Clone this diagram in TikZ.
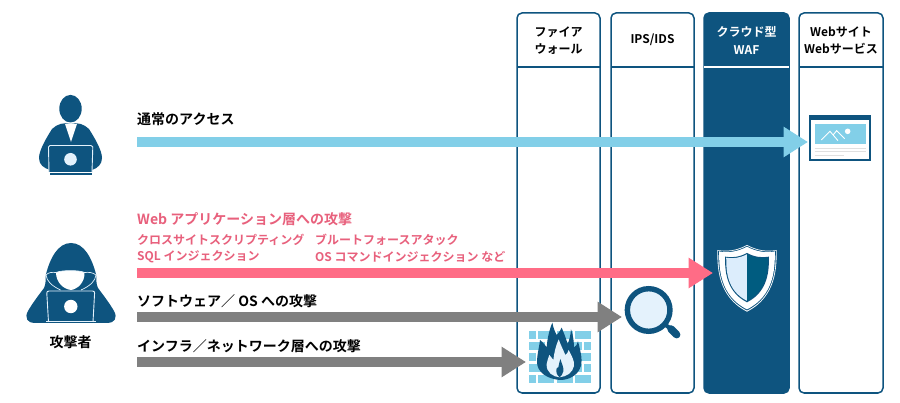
\documentclass[tikz,border=0pt]{standalone}
\usepackage{fontspec}
\setmainfont[BoldFont={Noto Sans CJK JP Bold}]{Noto Sans CJK JP}
\usetikzlibrary{arrows.meta}
\definecolor{navy}{HTML}{0E547F}
\definecolor{sky}{HTML}{82CFE8}
\definecolor{pale}{HTML}{E4F2FC}
\definecolor{shieldl}{HTML}{DCEDFC}
\definecolor{shieldr}{HTML}{005C80}
\definecolor{rose}{HTML}{FF6C86}
\definecolor{rosetext}{HTML}{E8607C}
\definecolor{ash}{HTML}{808080}
\newcommand{\shieldshape}{(771,45) .. controls (740,62) and (710,65) .. (682,60) .. controls (682,110) and (682,200) .. (771,245) .. controls (860,200) and (860,110) .. (860,60) .. controls (832,65) and (802,62) .. (771,45) -- cycle}
\tikzset{
  colbox/.style={draw=navy,line width=1.5pt,rounded corners=5pt,minimum width=83pt,minimum height=380pt,inner sep=0pt,fill=white},
  divline/.style={draw=navy,line width=1.5pt},
  head/.style={font=\bfseries\fontsize{12}{17.5}\selectfont,align=center,inner sep=0pt,text=black},
  lab/.style={font=\bfseries\fontsize{14}{16}\selectfont,anchor=west,inner sep=0pt,text=black},
  rlab/.style={font=\bfseries\fontsize{14}{16}\selectfont,anchor=west,inner sep=0pt,text=rosetext},
  slab/.style={font=\bfseries\fontsize{12}{14}\selectfont,anchor=west,inner sep=0pt,text=rosetext},
  flow/.style={draw=#1,line width=10pt,-{Triangle[length=24.5pt,width=29pt,fill=#1]}},
}
\begin{document}
\begin{tikzpicture}[x=1pt,y=-1pt]
\useasboundingbox (0,0) rectangle (900,403);
\fill[white] (0,0) rectangle (900,403);
% columns
\node[colbox] (fw) at (558.5,203) {};
\node[colbox] (ips) at (652.5,203) {};
\node[colbox,fill=navy,minimum width=85pt] (waf) at (746.5,203) {};
\node[colbox,minimum width=84pt] (web) at (841,203) {};
\draw[divline] (517,67) -- (600,67);
\draw[divline] (611,67) -- (694,67);
\draw[white,line width=1.5pt] (704,67) -- (789,67);
\draw[divline] (799,67) -- (883,67);
\node[head] (tfw) at (558.5,40.6) {ファイア\\ウォール};
\node[head] (tips) at (652.5,40) {IPS/IDS};
\node[head,text=white] (twaf) at (746.5,40.6) {クラウド型\\WAF};
\node[head] (tweb) at (841,40.6) {Webサイト\\Webサービス};
% user
\fill[navy] (70.5,108.7) ellipse [x radius=11.2,y radius=13.8];
\fill[navy] (71,124) .. controls (64,122) and (57,124) .. (52,129) .. controls (47,137) and (39,150) .. (39,158) .. controls (39,165) and (44,168) .. (50,170) -- (92,170) .. controls (98,168) and (102,164) .. (102,158) .. controls (102,150) and (94,137) .. (89,129) .. controls (84,124) and (77,122) .. (71,124) -- cycle;
\fill[white] (65,124) -- (71,142) -- (77,124) -- cycle;
\draw[pale,line width=.9pt,fill=navy] (49,172) -- (48.5,147) .. controls (48.5,146) and (49,145.5) .. (50,145.5) -- (91,145.5) .. controls (92,145.5) and (92.8,146) .. (92.8,147) -- (92,172);
\fill[white] (48,172) rectangle (93,173);
\fill[navy] (50,173) rectangle (92,175.5);
\fill[pale] (70.5,159.3) circle (6.3);
% attacker
\fill[navy] (71,243) .. controls (58,243) and (50,258) .. (45.8,275) .. controls (45.5,280) and (46,284) .. (44,288) .. controls (38,296) and (32,304) .. (28,311) .. controls (24,318) and (28,323) .. (34,323) -- (108,323) .. controls (114,323) and (118,318) .. (114,311) .. controls (110,304) and (104,296) .. (98,288) .. controls (96,284) and (96.5,280) .. (96.2,275) .. controls (92,258) and (84,243) .. (71,243) -- cycle;
\fill[white] (56,272.5) .. controls (62,270) and (79,270) .. (84.5,272.5) .. controls (85,282) and (78,289) .. (71,290) .. controls (63,289) and (56,282) .. (56,272.5) -- cycle;
\draw[pale,line width=.7pt] (46,275) .. controls (48,272.5) and (52,272) .. (56,272.5) .. controls (62,270) and (79,270) .. (84.5,272.5) .. controls (89,272) and (93,272.5) .. (96,275);
\draw[pale,line width=.7pt] (46,275) .. controls (46.5,281) and (52,286) .. (60.5,290);
\draw[pale,line width=.7pt] (96,275) .. controls (95.5,281) and (90,286) .. (81,290);
\draw[pale,line width=.9pt] (48.5,322) -- (46.8,293) .. controls (46.8,292) and (47.5,291) .. (49,291) -- (92.5,291) .. controls (94,291) and (94.8,292) .. (94.6,293) -- (93,322);
\draw[pale,line width=.7pt] (46,321.5) -- (96,321.5);
\fill[white] (70.8,306.5) circle (6.7);
\node[font=\bfseries\fontsize{14}{16}\selectfont,inner sep=0pt] (tatk) at (70.5,342.6) {攻撃者};
% website icon
\begin{scope}[shift={(780,100)},x=1/3*1pt,y=-1/3*1pt]
\fill[navy] (88,45) rectangle (272,182);
\fill[white] (93,59) rectangle (267,177);
\fill[sky] (104,72) rectangle (257,133);
\draw[white,line width=.9pt] (124,120) -- (150,94) -- (174,122);
\draw[white,line width=.9pt] (160,104) -- (170,92) -- (194,116);
\fill[white] (203,94) circle (2.8pt);
\draw[black!12,line width=.6pt] (104,144) -- (257,144);
\draw[black!12,line width=.6pt] (104,154) -- (257,154);
\draw[black!12,line width=.6pt] (104,166) -- (192,166);
\end{scope}
% bricks (coordinates of a 3x crop at 520,320)
\begin{scope}[shift={(520,320)},x=1/3*1pt,y=-1/3*1pt]
\foreach \ya/\yb in {32/57,98/122,165/190}{
  \fill[sky] (27,\ya) rectangle (48,\yb);
  \fill[sky] (55,\ya) rectangle (103,\yb);
  \fill[sky] (110,\ya) rectangle (158,\yb);
  \fill[sky] (165,\ya) rectangle (213,\yb);
}
\foreach \ya/\yb in {65/90,132/157}{
  \fill[sky] (27,\ya) rectangle (75,\yb);
  \fill[sky] (82,\ya) rectangle (130,\yb);
  \fill[sky] (137,\ya) rectangle (185,\yb);
  \fill[sky] (192,\ya) rectangle (213,\yb);
}
\end{scope}
% shield, magnifier, flame (coordinates of a 3x crop at 490,230)
\begin{scope}[shift={(490,230)},x=1/3*1pt,y=-1/3*1pt]
\fill[white] \shieldshape;
\begin{scope}[shift={(771,130)},scale=.97,shift={(-771,-130)}]\fill[navy] \shieldshape;\end{scope}
\begin{scope}[shift={(771,130)},scale=.94,shift={(-771,-130)}]\fill[white] \shieldshape;\end{scope}
\begin{scope}[shift={(771,137)},scale=.74,shift={(-771,-137)}]
\fill[navy] \shieldshape;
\end{scope}
\begin{scope}[shift={(771,137)},scale=.70,shift={(-771,-137)}]
\clip \shieldshape;
\fill[shieldl] (600,0) rectangle (771,300);
\fill[shieldr] (771,0) rectangle (900,300);
\end{scope}
% magnifier
\draw[navy,line width=7.5pt,line cap=round] (543,297) -- (560,314);
\draw[navy,line width=4pt] (520,280) -- (545,298);
\draw[navy,line width=5.4pt,fill=pale] (476,240) circle (21.3pt);
% flame
\fill[navy] (210,450) .. controls (170,447) and (140,425) .. (141,395) .. controls (141,375) and (147,355) .. (150,330) .. controls (160,338) and (165,345) .. (170,352) .. controls (172,325) and (178,300) .. (187,278) .. controls (190,295) and (195,305) .. (200,315) .. controls (205,310) and (212,300) .. (215,293) .. controls (222,310) and (228,325) .. (233,342) .. controls (238,330) and (242,315) .. (243,298) .. controls (250,315) and (252,340) .. (252,352) .. controls (258,350) and (262,342) .. (264,334) .. controls (272,365) and (280,395) .. (270,415) .. controls (260,438) and (235,450) .. (210,450) -- cycle;
\fill[pale] (208,442) .. controls (190,440) and (168,428) .. (170,402) .. controls (171,392) and (175,385) .. (178,375) .. controls (183,380) and (187,386) .. (190,390) .. controls (192,370) and (198,345) .. (206,328) .. controls (212,345) and (220,360) .. (226,375) .. controls (230,372) and (234,368) .. (236,360) .. controls (245,378) and (254,392) .. (252,408) .. controls (248,428) and (230,440) .. (208,442) -- cycle;
\fill[navy] (209,442) .. controls (200,435) and (197,425) .. (200,415) .. controls (202,410) and (204,415) .. (205,412) .. controls (207,405) and (208,395) .. (211,387) .. controls (214,398) and (222,412) .. (220,424) .. controls (218,432) and (214,438) .. (209,442) -- cycle;
\end{scope}
% flows
\coordinate (s1) at (137,142);
\coordinate (e1) at (808,142);
\coordinate (s2) at (137,273);
\coordinate (e2) at (713,273);
\coordinate (s3) at (137,317);
\coordinate (e3) at (622,317);
\coordinate (s4) at (137,362);
\coordinate (e4) at (526,362);
\draw[flow=sky] (s1) -- (e1);
\draw[flow=rose] (s2) -- (e2);
\draw[flow=ash] (s3) -- (e3);
\draw[flow=ash] (s4) -- (e4);
% labels
\node[lab] (l1) at (137,118.7) {通常のアクセス};
\node[rlab] (l2) at (137,218.7) {Web アプリケーション層への攻撃};
\node[slab] (l3) at (137,240) {クロスサイトスクリプティング};
\node[slab] (l4) at (315,240) {ブルートフォースアタック};
\node[slab] (l5) at (137,257) {SQL インジェクション};
\node[slab] (l6) at (315,257) {OS コマンドインジェクション など};
\node[lab] (l7) at (137,300.7) {ソフトウェア／ OS への攻撃};
\node[lab] (l8) at (137,346.2) {インフラ／ネットワーク層への攻撃};
\end{tikzpicture}
\end{document}
